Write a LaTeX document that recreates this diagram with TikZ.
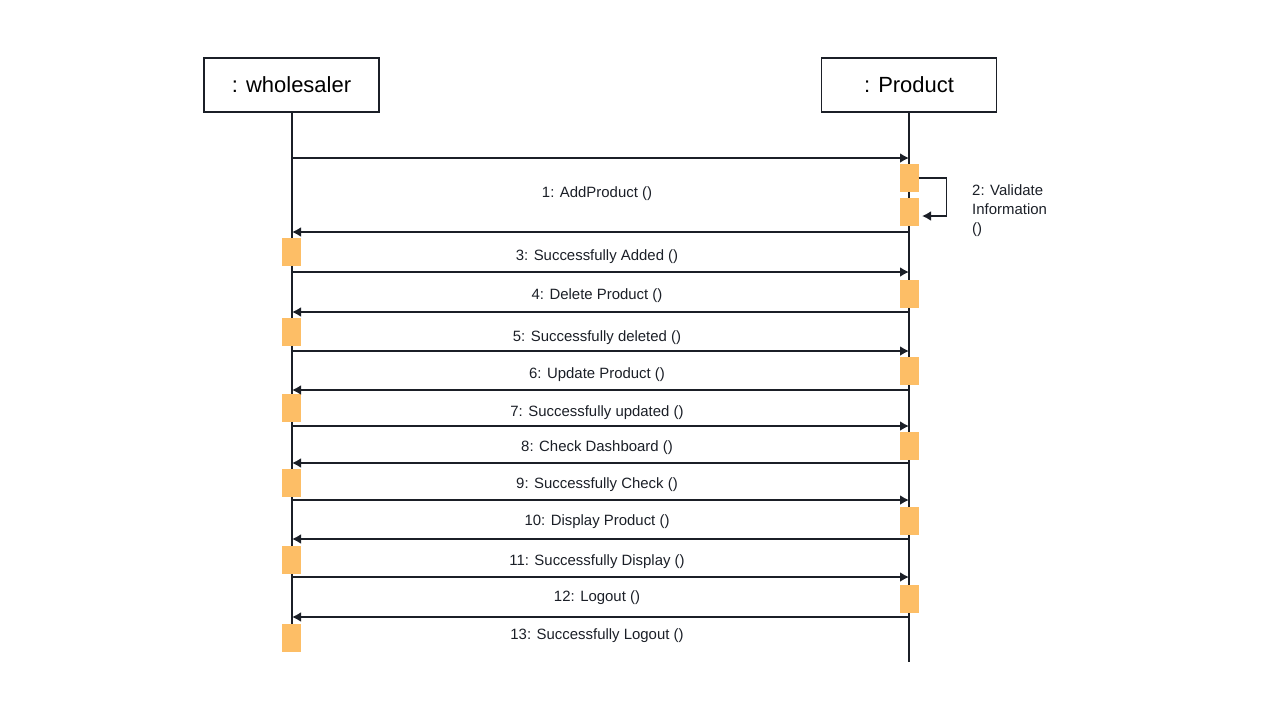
\documentclass[tikz,border=0pt]{standalone}
\usepackage{fontspec}
\setmainfont{Liberation Sans}
\usepackage{tikz}
\usetikzlibrary{arrows.meta}
\definecolor{ink}{HTML}{1B1F27}
\definecolor{actfill}{HTML}{FDBE66}
\tikzstyle{obj}   = [rectangle, minimum width=3.5cm, minimum height=1.08cm, text centered, draw=ink, line width=1.1pt, fill=white, font=\fontsize{12.5}{15}\selectfont]
\tikzstyle{act}   = [rectangle, minimum width=0.38cm, minimum height=0.56cm, inner sep=0pt, fill=actfill]
\tikzstyle{life}  = [draw=ink, line width=1.1pt]
\tikzstyle{arrow} = [draw=ink, line width=1.1pt, -{Latex[length=1.8mm,width=2mm]}]
\tikzstyle{msg}   = [font=\fontsize{8.5}{10.8}\selectfont, text=ink]

\begin{document}
\begin{tikzpicture}[x=0.02cm, y=-0.02cm]
      \useasboundingbox (0,0) rectangle (1280,720);

      \node (whs) [obj] at (291.5,85) {: wholesaler};
      \node (prd) [obj] at (909,85)   {: Product};

      % lifelines
      \coordinate (whsend) at (292,652);
      \coordinate (prdend) at (909,662);
      \draw [life] (whs.south -| whsend) -- (whsend);
      \draw [life] (prd.south) -- (prdend);

      % message ends on the lifelines
      \coordinate (w1)  at (292,158); \coordinate (p1)  at (909,158);
      \coordinate (w2)  at (292,232); \coordinate (p2)  at (909,232);
      \coordinate (w3)  at (292,272); \coordinate (p3)  at (909,272);
      \coordinate (w4)  at (292,312); \coordinate (p4)  at (909,312);
      \coordinate (w5)  at (292,351); \coordinate (p5)  at (909,351);
      \coordinate (w6)  at (292,390); \coordinate (p6)  at (909,390);
      \coordinate (w7)  at (292,426); \coordinate (p7)  at (909,426);
      \coordinate (w8)  at (292,463); \coordinate (p8)  at (909,463);
      \coordinate (w9)  at (292,500); \coordinate (p9)  at (909,500);
      \coordinate (w10) at (292,539); \coordinate (p10) at (909,539);
      \coordinate (w11) at (292,577); \coordinate (p11) at (909,577);
      \coordinate (w12) at (292,617); \coordinate (p12) at (909,617);

      % activation bars
      \node (pa1) [act] at (909,177.5) {};
      \node (pa2) [act] at (909,212)   {};
      \node (pa3) [act] at (909,294)   {};
      \node (pa4) [act] at (909,371)   {};
      \node (pa5) [act] at (909,446)   {};
      \node (pa6) [act] at (909,521)   {};
      \node (pa7) [act] at (909,599)   {};

      \node (wa1) [act] at (291.5,252) {};
      \node (wa2) [act] at (291.5,332) {};
      \node (wa3) [act] at (291.5,408) {};
      \node (wa4) [act] at (291.5,483) {};
      \node (wa5) [act] at (291.5,560) {};
      \node (wa6) [act] at (291.5,638) {};

      % messages
      \draw [arrow] (w1)  -- (p1);
      \draw [arrow] (p2)  -- (w2);
      \draw [arrow] (w3)  -- (p3);
      \draw [arrow] (p4)  -- (w4);
      \draw [arrow] (w5)  -- (p5);
      \draw [arrow] (p6)  -- (w6);
      \draw [arrow] (w7)  -- (p7);
      \draw [arrow] (p8)  -- (w8);
      \draw [arrow] (w9)  -- (p9);
      \draw [arrow] (p10) -- (w10);
      \draw [arrow] (w11) -- (p11);
      \draw [arrow] (p12) -- (w12);

      % self call
      \coordinate (s1) at (918.5,178);
      \coordinate (s2) at (922,216);
      \draw [arrow] (s1) -- ++(28,0) |- (s2);
      \node (l2) [msg, anchor=west, align=left] at (966,211) {2: Validate\\Information\\()};

      % labels
      \node (l1)  [msg] at (597,194) {1: AddProduct ()};
      \node (l3)  [msg] at (597,257) {3: Successfully Added ()};
      \node (l4)  [msg] at (597,296) {4: Delete Product ()};
      \node (l5)  [msg] at (597,338) {5: Successfully deleted ()};
      \node (l6)  [msg] at (597,375) {6: Update Product ()};
      \node (l7)  [msg] at (597,413) {7: Successfully updated ()};
      \node (l8)  [msg] at (597,448) {8: Check Dashboard ()};
      \node (l9)  [msg] at (597,485) {9: Successfully Check ()};
      \node (l10) [msg] at (597,522) {10: Display Product ()};
      \node (l11) [msg] at (597,562) {11: Successfully Display ()};
      \node (l12) [msg] at (597,598) {12: Logout ()};
      \node (l13) [msg] at (597,636) {13: Successfully Logout ()};
\end{tikzpicture}
\end{document}
